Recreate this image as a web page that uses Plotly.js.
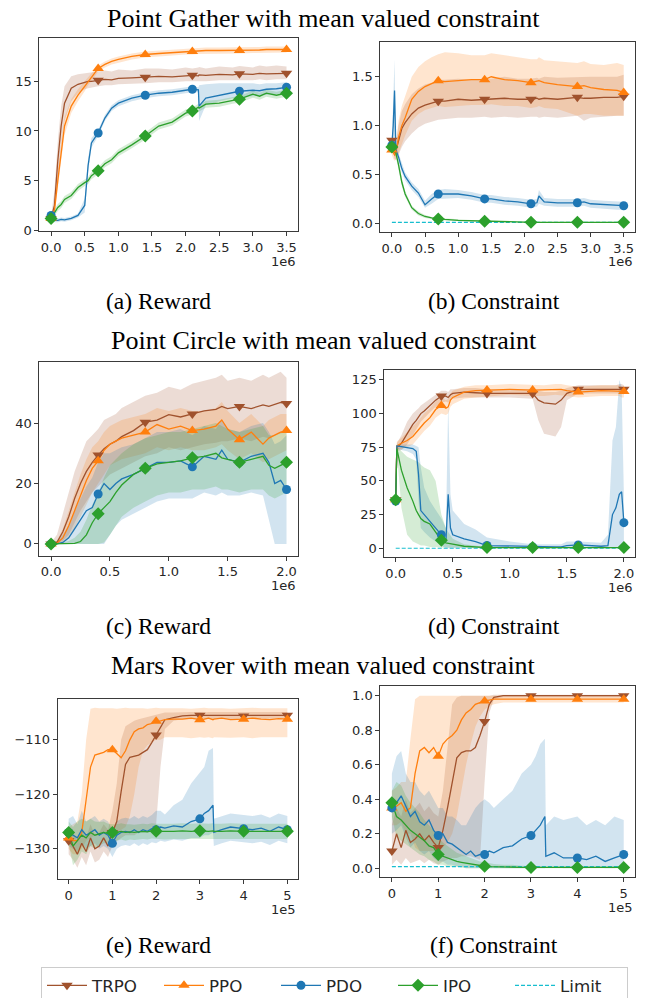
<!DOCTYPE html>
<html><head><meta charset="utf-8">
<script src="https://cdn.plot.ly/plotly-3.0.1.min.js"></script>
<style>body{margin:0;background:#fff}#chart{width:647px;height:998px}</style>
</head><body><div id="chart"></div>
<script>
// ---------- DATA (x in units of 1e6 for Point tasks, 1e5 for Mars Rover) ----------
const methods = ['TRPO','PPO','PDO','IPO'];

// (a) Point Gather reward
const xA = [0,0.05,0.1,0.15,0.2,0.3,0.4,0.5,0.55,0.6,0.7,0.8,0.9,1.0,1.2,1.4,1.6,1.8,2.0,2.1,2.19,2.2,2.3,2.5,2.7,2.8,3.0,3.1,3.2,3.35,3.5];
const trpoA    = [1.2,2.5,7.0,10.5,12.8,14.3,14.7,14.9,15.0,15.0,15.1,15.2,15.15,15.3,15.35,15.4,15.5,15.45,15.6,15.6,15.55,15.65,15.6,15.7,15.65,15.75,15.7,15.8,15.75,15.8,15.8];
const trpoA_lo = [1.0,1.5,5.0,8.5,11.0,13.0,13.8,14.2,14.3,14.4,14.5,14.6,14.6,14.7,14.75,14.8,14.9,14.9,15.0,15.0,15.0,15.05,15.0,15.1,15.1,15.1,15.1,15.2,15.1,15.2,15.2];
const trpoA_hi = [1.4,4.0,9.0,12.5,14.5,15.5,15.7,15.8,15.9,15.9,16.0,16.1,16.0,16.2,16.1,16.3,16.3,16.2,16.4,16.3,16.4,16.45,16.3,16.5,16.4,16.55,16.4,16.6,16.5,16.6,16.5];
const ppoA     = [1.2,2.0,5.0,8.0,10.5,12.5,13.6,14.5,15.0,15.4,16.3,16.7,17.0,17.2,17.5,17.7,17.8,17.9,18.0,18.0,18.05,18.05,18.1,18.1,18.1,18.1,18.15,18.15,18.2,18.2,18.2];
const ppoA_lo  = [1.0,1.4,4.0,7.0,9.6,11.8,13.0,14.0,14.6,15.0,16.0,16.4,16.7,16.9,17.2,17.4,17.5,17.6,17.7,17.7,17.75,17.75,17.8,17.8,17.8,17.8,17.85,17.85,17.9,17.9,17.9];
const ppoA_hi  = [1.4,2.6,6.0,9.0,11.4,13.2,14.2,15.0,15.4,15.8,16.6,17.0,17.3,17.5,17.8,18.0,18.1,18.2,18.3,18.3,18.35,18.35,18.4,18.4,18.4,18.4,18.45,18.45,18.5,18.5,18.5];
const pdoA     = [1.5,1.0,1.0,1.1,1.05,1.2,1.5,2.5,6.5,8.8,9.8,11.3,12.3,12.8,13.3,13.6,13.8,13.9,14.1,14.2,14.15,12.5,13.3,13.6,13.9,14.0,14.1,14.05,14.2,14.25,14.4];
const pdoA_lo  = [1.0,0.8,0.8,0.9,0.85,1.0,1.3,1.8,5.8,8.3,9.5,11.0,12.0,12.5,13.0,13.3,13.5,13.6,13.8,13.9,13.9,11.0,12.6,13.0,13.3,13.4,13.5,13.5,13.6,13.7,13.8];
const pdoA_hi  = [2.0,1.2,1.2,1.3,1.25,1.4,1.7,3.2,7.2,9.3,10.1,11.6,12.6,13.1,13.6,13.9,14.1,14.2,14.4,14.5,14.4,14.6,14.7,14.8,14.8,14.8,14.8,14.7,14.8,14.8,14.9];
const ipoA     = [1.2,1.8,2.3,2.6,3.1,3.5,4.3,4.8,5.0,5.5,6.0,6.7,7.1,7.8,8.6,9.5,10.5,10.9,11.8,12.0,12.4,12.3,12.7,12.8,13.1,13.2,13.7,13.5,13.8,13.6,13.8];
const ipoA_lo  = [1.0,1.45,1.95,2.25,2.75,3.15,3.95,4.45,4.65,5.15,5.65,6.35,6.75,7.45,8.25,9.15,10.15,10.55,11.45,11.65,12.05,11.95,12.35,12.45,12.75,12.85,13.35,13.15,13.45,13.25,13.45];
const ipoA_hi  = [1.4,2.15,2.65,2.95,3.45,3.85,4.65,5.15,5.35,5.85,6.35,7.05,7.45,8.15,8.95,9.85,10.85,11.25,12.15,12.35,12.75,12.65,13.05,13.15,13.45,13.55,14.05,13.85,14.15,13.95,14.15];
const marksA = [0,0.7,1.4,2.1,2.8,3.5];

// (b) Point Gather constraint
const xB = [0,0.02,0.04,0.06,0.1,0.15,0.2,0.3,0.4,0.5,0.6,0.7,0.8,1.0,1.2,1.4,1.5,1.7,1.9,2.1,2.19,2.22,2.3,2.5,2.8,2.9,3.0,3.2,3.4,3.5];
const trpoB    = [0.85,0.78,0.72,0.74,0.85,0.97,1.03,1.12,1.18,1.21,1.23,1.25,1.25,1.27,1.26,1.27,1.27,1.28,1.27,1.27,1.28,1.27,1.28,1.27,1.29,1.28,1.28,1.29,1.29,1.30];
const trpoB_lo = [0.8,0.72,0.66,0.65,0.7,0.78,0.84,0.92,0.98,1.02,1.04,1.06,1.07,1.08,1.08,1.09,1.08,1.09,1.08,1.09,1.09,1.08,1.09,1.08,1.10,1.05,1.08,1.09,1.1,1.1];
const trpoB_hi = [0.9,0.85,0.8,0.83,1.0,1.15,1.22,1.32,1.38,1.42,1.44,1.47,1.47,1.48,1.47,1.48,1.48,1.5,1.48,1.48,1.49,1.48,1.5,1.49,1.5,1.5,1.5,1.5,1.5,1.52];
const ppoB     = [0.75,0.72,0.7,0.72,0.88,1.0,1.08,1.27,1.35,1.4,1.43,1.46,1.45,1.46,1.47,1.47,1.5,1.47,1.46,1.44,1.45,1.46,1.44,1.42,1.40,1.41,1.39,1.37,1.36,1.34];
const ppoB_lo  = [0.7,0.66,0.64,0.65,0.72,0.82,0.9,1.05,1.12,1.16,1.18,1.2,1.19,1.2,1.21,1.21,1.22,1.2,1.2,1.18,1.19,1.2,1.18,1.17,1.1,1.12,1.12,1.1,1.1,1.1];
const ppoB_hi  = [0.8,0.78,0.76,0.8,1.05,1.2,1.3,1.5,1.6,1.66,1.7,1.73,1.75,1.74,1.72,1.72,1.74,1.72,1.7,1.68,1.68,1.7,1.67,1.66,1.64,1.66,1.63,1.62,1.64,1.62];
const pdoB     = [0.8,1.0,1.36,0.75,0.68,0.56,0.48,0.38,0.31,0.19,0.25,0.3,0.3,0.3,0.28,0.25,0.25,0.23,0.22,0.2,0.21,0.28,0.22,0.21,0.21,0.22,0.2,0.19,0.18,0.18];
const pdoB_lo  = [0.76,0.8,0.9,0.7,0.64,0.52,0.44,0.34,0.27,0.16,0.2,0.25,0.25,0.26,0.24,0.21,0.21,0.19,0.18,0.16,0.17,0.2,0.18,0.17,0.17,0.18,0.16,0.15,0.14,0.14];
const pdoB_hi  = [0.84,1.2,1.68,0.8,0.72,0.6,0.52,0.42,0.35,0.23,0.3,0.34,0.35,0.34,0.32,0.29,0.29,0.27,0.26,0.24,0.25,0.34,0.26,0.25,0.25,0.26,0.24,0.23,0.22,0.22];
const ipoB     = [0.78,0.76,0.74,0.72,0.6,0.42,0.3,0.16,0.1,0.07,0.055,0.045,0.04,0.03,0.025,0.02,0.02,0.015,0.012,0.01,0.01,0.01,0.01,0.01,0.01,0.01,0.01,0.01,0.01,0.01];
const ipoB_lo  = [0.76,0.73,0.7,0.68,0.55,0.38,0.27,0.14,0.08,0.055,0.045,0.035,0.03,0.02,0.015,0.012,0.01,0.008,0.006,0.005,0.005,0.005,0.005,0.005,0.005,0.005,0.005,0.005,0.005,0.005];
const ipoB_hi  = [0.8,0.79,0.78,0.76,0.65,0.46,0.33,0.18,0.12,0.085,0.065,0.055,0.05,0.04,0.035,0.028,0.03,0.022,0.018,0.015,0.015,0.015,0.015,0.015,0.015,0.015,0.015,0.015,0.015,0.015];
const marksB = [0,0.7,1.4,2.1,2.8,3.5];
const limitBx = [0,3.5], limitBy = [0.01,0.01];

// (c) Point Circle reward
const xC = [0,0.05,0.1,0.15,0.2,0.25,0.3,0.35,0.4,0.45,0.5,0.55,0.6,0.7,0.8,0.9,1.0,1.1,1.2,1.3,1.4,1.45,1.5,1.6,1.7,1.8,1.85,1.9,1.95,2.0];
const trpoC    = [0,0.5,4,9,15,20,24,27,29.4,31.5,33,34,35.5,37.5,40.3,41,42.8,42,43,44,44.5,45.5,44.8,45.5,44.8,46,45.5,46.2,46.8,46.5];
const trpoC_lo = [0,0,1,3,7,11,14,17,19,21,23,24,25,27,29,30,32,31,32,33,33.5,34,34,35,34,35.5,35,36,36.5,37];
const trpoC_hi = [0.5,3,10,17,24,29,34,36,38,41,42,43,45,47,49,50,52,51,53,54,55,56,54,55,54,56,55,56,57,55];
const ppoC     = [0,0.2,2,6,11,16,21,25,27.5,31,33,34,35,36,37,39.5,38,39,37.5,38,39,41,38,34.5,37,33,35,36,37,37.5];
const ppoC_lo  = [0,0,0.5,2,5,9,13,17,20,23,26,27,28,29,30,32,31,32,31,31,32,33,31,28,30,27,28,29,30,31];
const ppoC_hi  = [0.3,1,5,11,17,23,28,32,34,37,39,40,41,42,43,45,44,45,44,44,45,47,44,40,43,39,41,42,43,43];
const pdoC     = [0,0,0.5,2,5,8,11,12,16.5,20,18,20,21.5,23,25,27,27,27.5,25.5,29,28,31,28,27,29,30,27,20,21,18];
const pdoC_lo  = [0,0,0,0,0,0,0,0,0,0,3,6,8,10,12,14,15,15,15,17,16,17,16,16,17,16,8,0,0,0];
const pdoC_hi  = [0,0.5,3,6,11,15,19,22,27,30,30,31,32,33,35,37,37,38,36,39,38,41,38,37,39,40,37,33,34,36];
const ipoC     = [0,0,0,0,0.2,0.8,3,7,10,12,14,17,19.5,23,25,26.5,27,27.5,28.5,29,30,28.5,28,27,28,29,26,25,26,27];
const ipoC_lo  = [0,0,0,0,0,0,0,0,0,0.5,3,6,9,12,14,16,17,17,18,18,19,18,18,17,18,18,16,15,16,17];
const ipoC_hi  = [0,0,0.5,1,2,4,8,13,17,22,26,28,30,33,35,36,37,37,38,39,40,39,38,37,38,39,36,36,37,37];
const marksC = [0,0.4,0.8,1.2,1.6,2.0];

// (d) Point Circle constraint
const xD = [0,0.01,0.05,0.1,0.15,0.18,0.2,0.22,0.25,0.3,0.35,0.4,0.44,0.46,0.48,0.5,0.6,0.7,0.8,1.0,1.2,1.25,1.3,1.4,1.45,1.5,1.6,1.8,1.86,1.9,1.93,1.96,1.98,2.0];
const trpoD    = [36,75,78,85,92,95,98,100,102,106,110,113,113,112,114,115,116,115.5,115,115,115,110,108,107,110,115,118,118,118,118,118,118.5,118.5,118];
const trpoD_lo = [35,72,73,77,84,88,91,94,97,101,105,108,109,108,110,111,112,112,112,112,111,95,85,83,90,110,115,115,115,115,115,115,116,115];
const trpoD_hi = [37,78,84,94,100,102,104,106,108,111,114,117,117,116,118,118,119,119,118,118,118,117,116,116,117,119,121,121,121,121,121,122,122,121];
const ppoD     = [36,76,78,80,83,86,88,90,93,97,103,106,104,105,110,112,116,117,117.5,118,117.5,117.5,117.5,118,118,117,116,117,117,117,117,117,116.5,116.5];
const ppoD_lo  = [35,73,74,75,77,80,82,84,87,91,97,100,99,100,105,107,111,112,113,114,113,113,113,114,114,113,112,113,113,113,113,113,112,112];
const ppoD_hi  = [37,79,82,86,90,93,95,97,100,104,109,112,110,111,115,117,120,121,121,122,121,121,121,122,122,121,120,121,121,121,121,121,120,120];
const pdoD     = [35,76,75.5,75,74,72,55,28,25,20,15,10,5,40,15,10,7,5,2,1.5,1,1,1,1,1,2,2.5,1.5,2,25,30,40,42,19];
const pdoD_lo  = [34,74,73,72,70,66,35,15,12,8,5,2,0,0,0,0,0,0,0,0,0,0,0,0,0,0,0,0,0,0,0,0,0,0];
const pdoD_hi  = [36,77,77,77,77,76,75,60,45,35,28,22,15,108,40,28,18,14,8,5,3,3,3,3,3,5,5,4,10,80,90,125,120,40];
const ipoD     = [36,74,58,45,35,28,25,22,20,18,12,6,4,3.5,3,3,1.5,1,0.5,0.5,0.5,0.5,0.5,0.5,0.5,0.5,0.5,0.5,0.5,0.5,0.5,0.5,0.5,0.5];
const ipoD_lo  = [35,72,30,10,5,4,3,2,2,1,1,0.5,0,0,0,0,0,0,0,0,0,0,0,0,0,0,0,0,0,0,0,0,0,0];
const ipoD_hi  = [37,76,72,68,66,65,64,62,60,58,50,25,15,12,9,7,3,2,1,1,1,1,1,1,1,1,1,1,1,1,1,1,1,1];
const marksD = [0,0.4,0.8,1.2,1.6,2.0];
const limitDx = [0,2.0], limitDy = [0,0];

// (e) Mars Rover reward, (f) Mars Rover constraint  (x in units of 1e5)
const xM = [0,0.1,0.2,0.3,0.4,0.5,0.6,0.7,0.8,0.9,1.0,1.1,1.2,1.3,1.4,1.5,1.6,1.7,1.8,1.9,2.0,2.1,2.2,2.4,2.6,2.8,3.0,3.1,3.2,3.3,3.32,3.5,3.7,4.0,4.2,4.4,4.6,4.8,5.0];
const trpoE    = [-128.5,-129.5,-131,-129,-130.5,-128,-130,-129.5,-128,-129.5,-127,-125,-119.5,-114.5,-113.2,-113,-112.8,-112.3,-111.8,-110.5,-109.1,-107.5,-106.3,-105.9,-105.6,-105.5,-105.5,-105.6,-105.5,-105.5,-105.5,-105.6,-105.5,-105.6,-105.5,-105.5,-105.6,-105.5,-105.5];
const trpoE_lo = [-131,-132,-133.5,-131.5,-133,-130.5,-132.5,-132,-130.5,-131.5,-129.5,-128.5,-128,-127.5,-127.5,-127.5,-127,-127,-127,-126.5,-125.5,-115,-108,-106.5,-106.2,-106.1,-106.1,-106.2,-106.1,-106.1,-106.1,-106.2,-106.1,-106.2,-106.1,-106.1,-106.2,-106.1,-106.1];
const trpoE_hi = [-126,-127,-128.5,-126.5,-128,-125.5,-127.5,-127,-125.5,-126.5,-123,-118,-110,-107.5,-107,-106.5,-106.2,-106,-105.8,-105.5,-105.3,-105.1,-105,-105,-104.9,-104.9,-104.9,-105,-104.9,-104.9,-104.9,-105,-104.9,-105,-104.9,-104.9,-105,-104.9,-104.9];
const ppoE     = [-128,-128.5,-128.5,-127,-121,-115,-112.8,-112.5,-112.3,-111.8,-111.8,-112.5,-113.3,-112,-110,-108.5,-108,-107.8,-107.2,-107,-106.6,-106.5,-106.3,-106.2,-106.2,-106,-106.3,-106.2,-106,-106.3,-106.2,-106,-106.3,-106.2,-106,-106.2,-106.3,-106.1,-106.2];
const ppoE_lo  = [-130,-131,-131,-130,-128.5,-128,-127.5,-127.5,-127,-127,-127,-127,-126.5,-126,-124,-120,-115,-112,-111,-110.5,-110,-110,-109.5,-109.5,-109.5,-109.7,-109.5,-109.6,-109.5,-109.7,-109.5,-109.5,-109.6,-109.5,-109.7,-109.5,-109.6,-109.5,-109.5];
const ppoE_hi  = [-126,-125.5,-125,-120,-110,-104.3,-104.1,-104.2,-104.2,-104.1,-104.2,-104.3,-104.2,-104.1,-104.2,-104.2,-104.1,-104.2,-104.3,-104.2,-104.1,-104.2,-104.2,-104.1,-104.2,-104.3,-104.2,-104.1,-104.2,-104.2,-104.1,-104.2,-104.3,-104.2,-104.1,-104.2,-104.2,-104.1,-104.2];
const pdoE     = [-127,-127.5,-128,-126.5,-127.5,-127,-126.5,-127.5,-127,-127.5,-129,-127.5,-127,-126.8,-127,-126.5,-127,-126.5,-126.8,-126.3,-126.5,-126,-126.2,-125.8,-126,-125,-124.5,-123.5,-123,-122,-127,-126.5,-126,-126.3,-126.5,-126.2,-126.8,-126,-126.5];
const pdoE_lo  = [-129.5,-130,-130.5,-129,-130,-129.5,-129,-130,-129.5,-130,-131.5,-130,-129.5,-129.3,-129.5,-129,-129.5,-129,-129.3,-128.8,-129,-128.5,-128.7,-128.3,-128.5,-128,-128,-127.5,-127.5,-127,-129.5,-129,-128.5,-128.8,-129,-128.7,-129.3,-128.5,-129];
const pdoE_hi  = [-124.5,-124,-125.5,-123,-125,-124.5,-124,-125,-124.5,-125,-126.5,-125,-124.5,-124.3,-124.5,-124,-124.5,-124,-124.3,-123.8,-123,-123,-123.7,-122,-121,-118,-116,-115,-112,-111.5,-124.5,-124,-123.5,-123.8,-124,-123.7,-124.3,-123.5,-124];
const ipoE     = [-127,-129.5,-128.5,-127.5,-128,-127,-127.5,-127.3,-127,-127.2,-127,-127,-126.8,-127,-126.9,-127,-126.9,-126.8,-126.9,-126.7,-126.8,-126.8,-126.9,-126.8,-126.7,-126.8,-126.7,-126.8,-126.8,-126.7,-126.8,-126.8,-126.7,-126.8,-126.8,-126.7,-126.8,-126.8,-126.8];
const ipoE_lo  = [-129,-133,-132,-130.5,-131,-129.5,-130,-129.5,-129,-129,-128.5,-128.5,-128.3,-128.5,-128.3,-128.4,-128.3,-128.2,-128.3,-128.1,-128.2,-128.2,-128.3,-128.2,-128.1,-128.2,-128.1,-128.2,-128.2,-128.1,-128.2,-128.2,-128.1,-128.2,-128.2,-128.1,-128.2,-128.2,-128.2];
const ipoE_hi  = [-125,-126,-125,-124.5,-125,-124.5,-125,-125.1,-125,-125.4,-125.5,-125.5,-125.3,-125.5,-125.5,-125.6,-125.5,-125.4,-125.5,-125.3,-125.4,-125.4,-125.5,-125.4,-125.3,-125.4,-125.3,-125.4,-125.4,-125.3,-125.4,-125.4,-125.3,-125.4,-125.4,-125.3,-125.4,-125.4,-125.4];

const trpoF    = [0.1,0.2,0.12,0.22,0.15,0.17,0.2,0.16,0.19,0.15,0.12,0.22,0.35,0.5,0.64,0.67,0.68,0.68,0.7,0.77,0.85,0.95,0.99,1.0,1.0,1.0,1.0,1.0,1.0,1.0,1.0,1.0,1.0,1.0,1.0,1.0,1.0,1.0,1.0];
const trpoF_lo = [0.02,0.05,0.02,0.06,0.03,0.04,0.05,0.03,0.05,0.03,0.02,0.04,0.05,0.06,0.06,0.07,0.07,0.07,0.06,0.05,0.5,0.9,0.98,0.99,0.99,0.99,0.99,0.99,0.99,0.99,0.99,0.99,0.99,0.99,0.99,0.99,0.99,0.99,0.99];
const trpoF_hi = [0.25,0.35,0.3,0.4,0.32,0.35,0.38,0.33,0.36,0.32,0.3,0.45,0.7,0.95,0.99,1.0,1.0,1.0,1.0,1.0,1.0,1.0,1.005,1.005,1.005,1.005,1.005,1.005,1.005,1.005,1.005,1.005,1.005,1.005,1.005,1.005,1.005,1.005,1.005];
const ppoF     = [0.35,0.36,0.38,0.33,0.35,0.55,0.68,0.7,0.67,0.7,0.65,0.72,0.75,0.77,0.8,0.86,0.9,0.92,0.95,0.96,0.97,0.975,0.98,0.98,0.98,0.98,0.98,0.98,0.98,0.98,0.98,0.98,0.98,0.98,0.98,0.98,0.98,0.98,0.98];
const ppoF_lo  = [0.25,0.25,0.27,0.2,0.2,0.12,0.1,0.1,0.1,0.1,0.1,0.12,0.15,0.2,0.3,0.45,0.6,0.72,0.82,0.88,0.92,0.94,0.95,0.96,0.96,0.96,0.96,0.96,0.96,0.96,0.96,0.96,0.96,0.96,0.96,0.96,0.96,0.96,0.96];
const ppoF_hi  = [0.45,0.47,0.5,0.5,0.75,0.98,1.0,1.0,1.0,1.0,1.0,1.0,1.0,1.0,1.0,1.0,1.0,1.0,1.0,1.0,1.0,1.0,1.0,1.0,1.0,1.0,1.0,1.0,1.0,1.0,1.0,1.0,1.0,1.0,1.0,1.0,1.0,1.0,1.0];
const pdoF     = [0.35,0.38,0.42,0.36,0.3,0.33,0.27,0.25,0.28,0.22,0.19,0.2,0.15,0.14,0.12,0.1,0.08,0.1,0.07,0.08,0.08,0.1,0.09,0.12,0.13,0.17,0.19,0.22,0.25,0.3,0.07,0.09,0.06,0.06,0.05,0.07,0.04,0.06,0.08];
const pdoF_lo  = [0.2,0.22,0.25,0.18,0.12,0.15,0.1,0.08,0.1,0.06,0.04,0.04,0.02,0.02,0.01,0.01,0,0,0,0,0,0,0,0,0,0,0,0,0,0,0.01,0.01,0,0,0,0.01,0,0,0.01];
const pdoF_hi  = [0.55,0.65,0.68,0.55,0.5,0.5,0.45,0.42,0.45,0.4,0.35,0.35,0.3,0.3,0.28,0.25,0.25,0.3,0.35,0.38,0.4,0.38,0.35,0.4,0.45,0.55,0.6,0.65,0.72,0.75,0.25,0.3,0.28,0.3,0.25,0.28,0.25,0.3,0.28];
const ipoF     = [0.38,0.3,0.28,0.25,0.22,0.2,0.18,0.16,0.13,0.12,0.08,0.07,0.06,0.05,0.04,0.035,0.03,0.025,0.02,0.015,0.012,0.01,0.01,0.008,0.008,0.006,0.005,0.005,0.005,0.005,0.005,0.005,0.005,0.005,0.005,0.005,0.005,0.005,0.005];
const ipoF_lo  = [0.3,0.18,0.16,0.14,0.12,0.1,0.08,0.07,0.05,0.04,0.02,0.02,0.01,0.01,0.01,0.005,0,0,0,0,0,0,0,0,0,0,0,0,0,0,0,0,0,0,0,0,0,0,0];
const ipoF_hi  = [0.45,0.5,0.48,0.42,0.38,0.35,0.32,0.28,0.25,0.22,0.18,0.15,0.13,0.11,0.09,0.08,0.07,0.06,0.05,0.04,0.035,0.03,0.025,0.02,0.02,0.015,0.012,0.012,0.012,0.012,0.012,0.012,0.012,0.012,0.012,0.012,0.012,0.012,0.012];
const marksM = [0,1,2,3,4,5];
const limitFx = [0,5], limitFy = [0.01,0.01];

// text
const sectionTitles = ['Point Gather with mean valued constraint','Point Circle with mean valued constraint','Mars Rover with mean valued constraint'];
const captions = ['(a) Reward','(b) Constraint','(c) Reward','(d) Constraint','(e) Reward','(f) Constraint'];
const exponents = ['1e6','1e6','1e6','1e6','1e5','1e5'];

// ---------- STYLE ----------
const colors = {TRPO:'#a0522d', PPO:'#ff7f0e', PDO:'#1f77b4', IPO:'#2ca02c'};
const fills  = {TRPO:'rgba(160,82,45,0.2)', PPO:'rgba(255,127,14,0.2)', PDO:'rgba(31,119,180,0.2)', IPO:'rgba(44,160,44,0.2)'};
const symbols = {TRPO:'triangle-down', PPO:'triangle-up', PDO:'circle', IPO:'diamond'};
const msize = {TRPO:10, PPO:10, PDO:9, IPO:10};
const limitColor = '#17becf';

const panels = [
  {x:xA, d:{TRPO:[trpoA,trpoA_lo,trpoA_hi],PPO:[ppoA,ppoA_lo,ppoA_hi],PDO:[pdoA,pdoA_lo,pdoA_hi],IPO:[ipoA,ipoA_lo,ipoA_hi]}, marks:marksA, lim:null,
   dom:{x:[39.3,298.3],y:[38.3,231.3]}, xr:[-0.175,3.675], yr:[-0.1,19.33], xt:[0,0.5,1,1.5,2,2.5,3,3.5], xf:'.1f', yt:[0,5,10,15], yf:''},
  {x:xB, d:{TRPO:[trpoB,trpoB_lo,trpoB_hi],PPO:[ppoB,ppoB_lo,ppoB_hi],PDO:[pdoB,pdoB_lo,pdoB_hi],IPO:[ipoB,ipoB_lo,ipoB_hi]}, marks:marksB, lim:[limitBx,limitBy],
   dom:{x:[380.3,635.3],y:[42.3,232]}, xr:[-0.175,3.675], yr:[-0.089,1.853], xt:[0,0.5,1,1.5,2,2.5,3,3.5], xf:'.1f', yt:[0,0.5,1,1.5], yf:'.1f'},
  {x:xC, d:{TRPO:[trpoC,trpoC_lo,trpoC_hi],PPO:[ppoC,ppoC_lo,ppoC_hi],PDO:[pdoC,pdoC_lo,pdoC_hi],IPO:[ipoC,ipoC_lo,ipoC_hi]}, marks:marksC, lim:null,
   dom:{x:[39.3,298.3],y:[362.3,555.7]}, xr:[-0.1,2.1], yr:[-3.9,60.1], xt:[0,0.5,1,1.5,2], xf:'.1f', yt:[0,20,40], yf:''},
  {x:xD, d:{TRPO:[trpoD,trpoD_lo,trpoD_hi],PPO:[ppoD,ppoD_lo,ppoD_hi],PDO:[pdoD,pdoD_lo,pdoD_hi],IPO:[ipoD,ipoD_lo,ipoD_hi]}, marks:marksD, lim:[limitDx,limitDy],
   dom:{x:[384.3,635.3],y:[369.7,557]}, xr:[-0.1,2.1], yr:[-6.5,132.6], xt:[0,0.5,1,1.5,2], xf:'.1f', yt:[0,25,50,75,100,125], yf:''},
  {x:xM, d:{TRPO:[trpoE,trpoE_lo,trpoE_hi],PPO:[ppoE,ppoE_lo,ppoE_hi],PDO:[pdoE,pdoE_lo,pdoE_hi],IPO:[ipoE,ipoE_lo,ipoE_hi]}, marks:marksM, lim:null,
   dom:{x:[57.7,298.3],y:[699,879.3]}, xr:[-0.25,5.25], yr:[-135.6,-102.5], xt:[0,1,2,3,4,5], xf:'', yt:[-130,-120,-110], yf:''},
  {x:xM, d:{TRPO:[trpoF,trpoF_lo,trpoF_hi],PPO:[ppoF,ppoF_lo,ppoF_hi],PDO:[pdoF,pdoF_lo,pdoF_hi],IPO:[ipoF,ipoF_lo,ipoF_hi]}, marks:marksM, lim:[limitFx,limitFy],
   dom:{x:[380.3,635.3],y:[685.7,877.3]}, xr:[-0.25,5.25], yr:[-0.052,1.058], xt:[0,1,2,3,4,5], xf:'', yt:[0,0.2,0.4,0.6,0.8,1.0], yf:'.1f'}
];

const W = 647, H = 998;
const px = v => v / W, py = v => 1 - v / H;
const traces = [];
const layout = {width:W, height:H, margin:{l:0,r:0,t:0,b:0,autoexpand:false}, paper_bgcolor:'#fff', plot_bgcolor:'#fff',
  showlegend:true, annotations:[], font:{family:'DejaVu Sans', color:'#262626'}};

panels.forEach((p, i) => {
  const n = i === 0 ? '' : String(i + 1);
  const xa = 'x' + n, ya = 'y' + n;
  const axBase = {showgrid:false, zeroline:false, showline:true, mirror:true, linecolor:'#3a3a3a', linewidth:1,
    ticks:'outside', ticklen:4, tickwidth:1, tickcolor:'#3a3a3a', tickfont:{family:'DejaVu Sans', size:13, color:'#262626'}, fixedrange:true, automargin:false};
  layout['xaxis' + n] = Object.assign({}, axBase, {domain:[px(p.dom.x[0]), px(p.dom.x[1])], range:p.xr, tickmode:'array', tickvals:p.xt, tickformat:p.xf, anchor:ya});
  layout['yaxis' + n] = Object.assign({}, axBase, {domain:[py(p.dom.y[1]), py(p.dom.y[0])], range:p.yr, tickmode:'array', tickvals:p.yt, tickformat:p.yf, anchor:xa});
  methods.forEach(m => {
    const [, lo, hi] = p.d[m];
    traces.push({type:'scatter', mode:'lines', x:p.x.concat(p.x.slice().reverse()), y:hi.concat(lo.slice().reverse()),
      fill:'toself', fillcolor:fills[m], line:{width:0, color:fills[m]}, hoverinfo:'skip', showlegend:false, xaxis:xa, yaxis:ya});
  });
  if (p.lim) {
    traces.push({type:'scatter', mode:'lines', x:p.lim[0], y:p.lim[1], line:{color:limitColor, width:1.2, dash:'4px,2px'}, showlegend:false, xaxis:xa, yaxis:ya});
  }
  methods.forEach(m => {
    const mean = p.d[m][0];
    traces.push({type:'scatter', mode:'lines', x:p.x, y:mean, line:{color:colors[m], width:1.3}, showlegend:false, xaxis:xa, yaxis:ya});
  });
  methods.forEach(m => {
    const mean = p.d[m][0];
    traces.push({type:'scatter', mode:'markers', x:p.marks, y:p.marks.map(v => mean[p.x.indexOf(v)]),
      marker:{symbol:symbols[m], size:msize[m], color:colors[m], line:{width:0}}, showlegend:false, xaxis:xa, yaxis:ya});
  });
  layout.annotations.push({xref:'paper', yref:'paper', x:px(p.dom.x[1]), y:py(p.dom.y[1] + 30), xanchor:'right', yanchor:'middle',
    text:exponents[i], showarrow:false, font:{family:'DejaVu Sans', size:13, color:'#262626'}});
});

const titleY = [18, 341, 665];
sectionTitles.forEach((t, k) => layout.annotations.push({xref:'paper', yref:'paper', x:0.5, y:py(titleY[k]), xanchor:'center', yanchor:'middle',
  text:t, showarrow:false, font:{family:'Liberation Serif', size:26, color:'#000'}}));
const capX = [158, 494, 158, 494, 158, 494], capY = [301, 301, 626, 626, 945, 945];
captions.forEach((t, k) => layout.annotations.push({xref:'paper', yref:'paper', x:px(capX[k]), y:py(capY[k]), xanchor:'center', yanchor:'middle',
  text:t, showarrow:false, font:{family:'Liberation Serif', size:23.5, color:'#000'}}));

methods.forEach(m => traces.push({type:'scatter', mode:'lines+markers', x:[null], y:[null], name:m,
  line:{color:colors[m], width:1.3}, marker:{symbol:symbols[m], size:msize[m], color:colors[m]}, xaxis:'x', yaxis:'y'}));
traces.push({type:'scatter', mode:'lines', x:[null], y:[null], name:'Limit', line:{color:limitColor, width:1.2, dash:'4px,2px'}, xaxis:'x', yaxis:'y'});

layout.legend = {orientation:'h', x:px(41), xanchor:'left', y:py(967), yanchor:'top', bgcolor:'#fff', bordercolor:'#cccccc', borderwidth:1,
  font:{family:'DejaVu Sans', size:16.7, color:'#262626'}, itemwidth:40, entrywidth:62, entrywidthmode:'pixels', traceorder:'normal'};

Plotly.newPlot('chart', traces, layout, {staticPlot:true, displayModeBar:false});
</script>
</body></html>
